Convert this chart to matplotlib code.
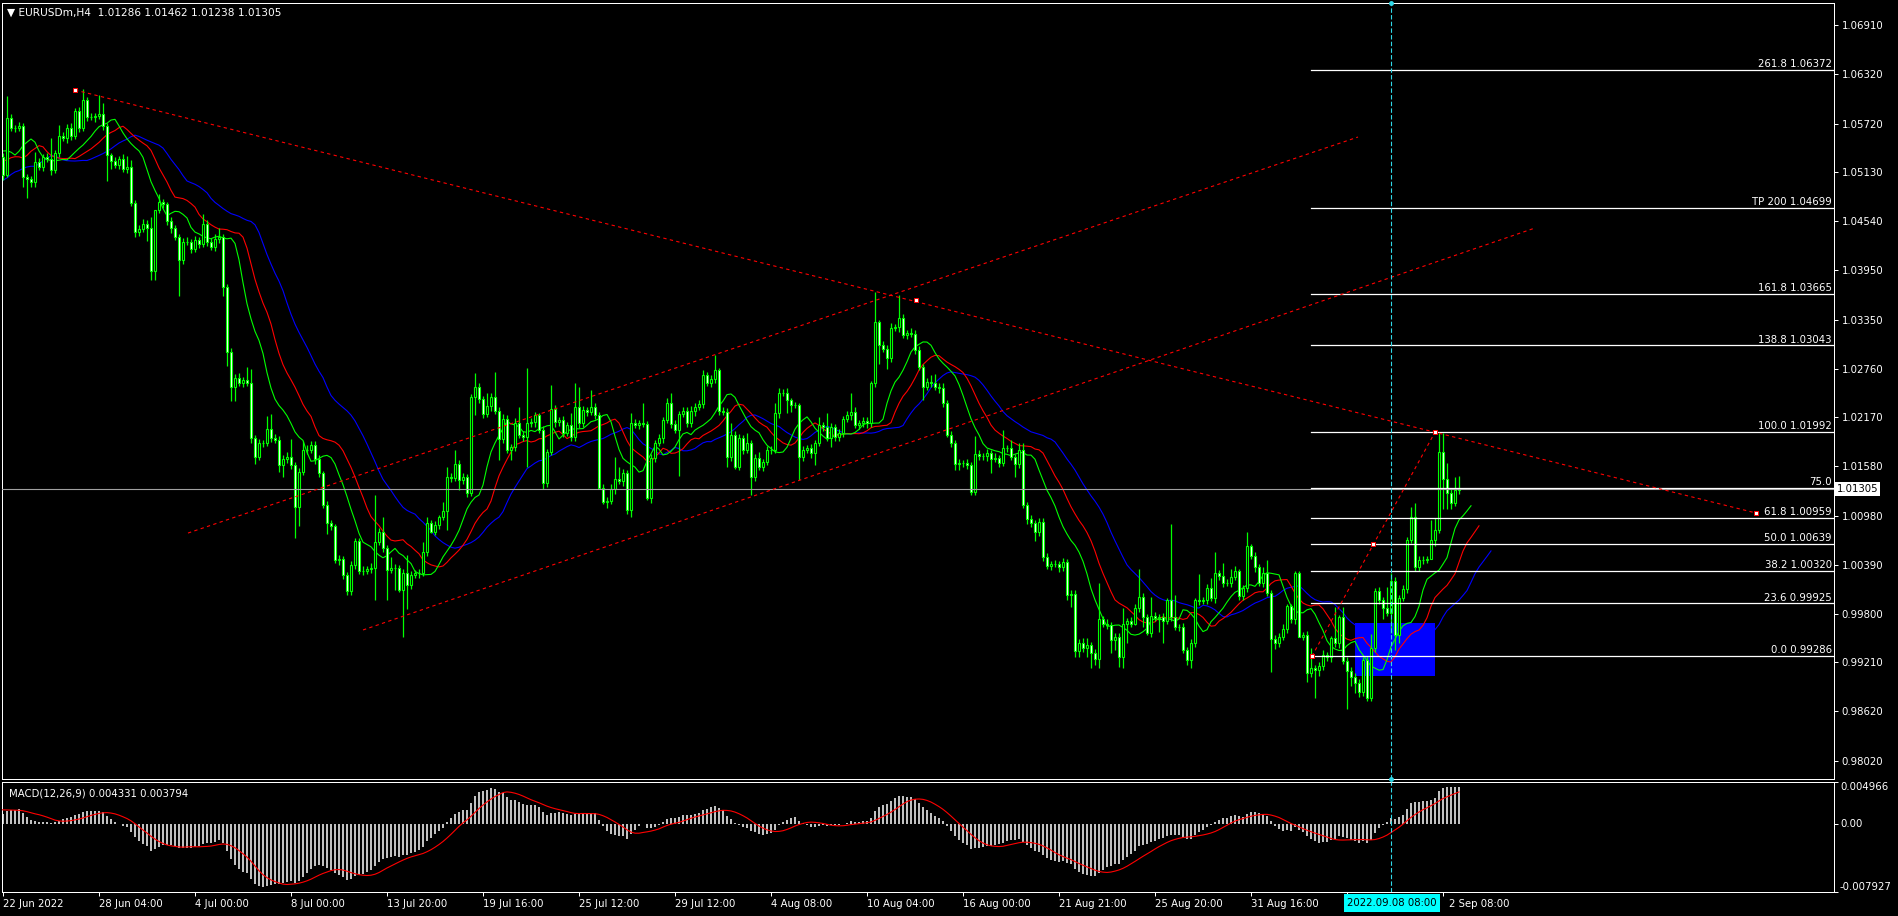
import numpy as np
import pandas as pd
import matplotlib
matplotlib.use('Agg')
import matplotlib.pyplot as plt
import matplotlib.transforms as mtrans
from matplotlib.patches import Rectangle

plt.rcParams['font.family'] = ['DejaVu Sans']
plt.rcParams['font.size'] = 7.3

# ---- EURUSDm H4 candles (close, wick lengths in pips) ----
closes = [
    1.0510, 1.0579, 1.0567, 1.0567, 1.0569, 1.0508, 1.0505, 1.0501, 1.0525, 1.0520,
    1.0531, 1.0529, 1.0516, 1.0536, 1.0557, 1.0555, 1.0567, 1.0557, 1.0587, 1.0567,
    1.0600, 1.0580, 1.0580, 1.0581, 1.0584, 1.0569, 1.0534, 1.0527, 1.0522, 1.0529,
    1.0517, 1.0520, 1.0476, 1.0441, 1.0445, 1.0451, 1.0446, 1.0394, 1.0468, 1.0477,
    1.0475, 1.0454, 1.0446, 1.0435, 1.0407, 1.0429, 1.0429, 1.0421, 1.0431, 1.0427,
    1.0451, 1.0429, 1.0423, 1.0432, 1.0435, 1.0375, 1.0296, 1.0254, 1.0265, 1.0259,
    1.0262, 1.0259, 1.0192, 1.0169, 1.0186, 1.0186, 1.0203, 1.0192, 1.0190, 1.0159,
    1.0167, 1.0169, 1.0159, 1.0109, 1.0151, 1.0178, 1.0178, 1.0184, 1.0167, 1.0150,
    1.0111, 1.0089, 1.0086, 1.0045, 1.0046, 1.0027, 1.0007, 1.0039, 1.0068, 1.0032,
    1.0032, 1.0034, 1.0035, 1.0067, 1.0078, 1.0059, 1.0033, 1.0035, 1.0035, 1.0008,
    1.0029, 1.0015, 1.0027, 1.0029, 1.0029, 1.0054, 1.0089, 1.0079, 1.0087, 1.0097,
    1.0104, 1.0145, 1.0144, 1.0161, 1.0141, 1.0145, 1.0126, 1.0242, 1.0254, 1.0239,
    1.0221, 1.0231, 1.0242, 1.0225, 1.0191, 1.0215, 1.0178, 1.0181, 1.0210, 1.0196,
    1.0193, 1.0210, 1.0211, 1.0220, 1.0202, 1.0138, 1.0175, 1.0227, 1.0211, 1.0214,
    1.0198, 1.0208, 1.0193, 1.0230, 1.0210, 1.0226, 1.0224, 1.0230, 1.0220, 1.0132,
    1.0115, 1.0116, 1.0130, 1.0143, 1.0140, 1.0150, 1.0105, 1.0210, 1.0208, 1.0210,
    1.0209, 1.0120, 1.0168, 1.0186, 1.0192, 1.0214, 1.0234, 1.0209, 1.0202, 1.0221,
    1.0225, 1.0210, 1.0225, 1.0230, 1.0233, 1.0268, 1.0259, 1.0263, 1.0274, 1.0225,
    1.0224, 1.0169, 1.0196, 1.0157, 1.0192, 1.0178, 1.0186, 1.0145, 1.0168, 1.0157,
    1.0163, 1.0178, 1.0178, 1.0222, 1.0247, 1.0247, 1.0238, 1.0232, 1.0232, 1.0169,
    1.0178, 1.0180, 1.0174, 1.0186, 1.0208, 1.0205, 1.0192, 1.0205, 1.0193, 1.0198,
    1.0215, 1.0220, 1.0224, 1.0208, 1.0210, 1.0213, 1.0210, 1.0259, 1.0332, 1.0304,
    1.0300, 1.0289, 1.0325, 1.0326, 1.0337, 1.0317, 1.0319, 1.0318, 1.0298, 1.0278,
    1.0254, 1.0260, 1.0259, 1.0254, 1.0253, 1.0234, 1.0196, 1.0186, 1.0161, 1.0162,
    1.0162, 1.0159, 1.0127, 1.0173, 1.0170, 1.0170, 1.0174, 1.0167, 1.0168, 1.0162,
    1.0180, 1.0180, 1.0169, 1.0161, 1.0178, 1.0111, 1.0094, 1.0089, 1.0078, 1.0091,
    1.0048, 1.0038, 1.0040, 1.0040, 1.0036, 1.0042, 1.0002, 1.0004, 0.9935, 0.9944,
    0.9939, 0.9942, 0.9932, 0.9925, 0.9973, 0.9968, 0.9966, 0.9948, 0.9952, 0.9927,
    0.9967, 0.9971, 0.9968, 0.9987, 1.0000, 0.9976, 0.9957, 0.9977, 0.9975, 0.9976,
    0.9971, 0.9996, 0.9976, 0.9964, 0.9964, 0.9936, 0.9924, 0.9944, 0.9996, 0.9995,
    0.9996, 1.0011, 0.9999, 1.0029, 1.0025, 1.0017, 1.0017, 1.0024, 1.0032, 1.0001,
    1.0011, 1.0062, 1.0050, 1.0036, 1.0017, 1.0029, 1.0005, 0.9949, 0.9945, 0.9952,
    0.9962, 0.9989, 0.9973, 1.0029, 0.9952, 0.9954, 0.9908, 0.9914, 0.9912, 0.9917,
    0.9930, 0.9927, 0.9951, 0.9944, 0.9976, 0.9923, 0.9911, 0.9904, 0.9896, 0.9885,
    0.9924, 0.9878, 0.9939, 1.0007, 0.9996, 0.9987, 0.9981, 1.0019, 0.9954, 0.9999,
    1.0010, 1.0069, 1.0097, 1.0036, 1.0045, 1.0045, 1.0046, 1.0069, 1.0081, 1.0175,
    1.0143, 1.0126, 1.0114, 1.0129, 1.01305,
]
wick_up = [
    5, 26, 4, 3, 5, 4, 3, 4, 13, 5,   4, 6, 26, 4, 13, 5, 4, 6, 4, 5,
    14, 4, 5, 4, 22, 13, 4, 3, 5, 4,  6, 13, 8, 4, 5, 6, 4, 13, 0, 10,
    4, 2, 5, 4, 3, 5, 6, 4, 5, 4,     12, 4, 5, 6, 11, 4, 3, 5, 4, 6,
    4, 16, 17, 4, 5, 4, 16, 18, 5, 4, 5, 6, 22, 4, 5, 10, 6, 4, 5, 4,
    2, 5, 4, 2, 5, 4, 3, 5, 3, 3,     5, 4, 6, 56, 5, 19, 4, 13, 5, 4,
    5, 22, 4, 4, 5, 12, 8, 4, 5, 2,   11, 12, 5, 17, 4, 5, 4, 3, 17, 5,
    4, 16, 5, 30, 4, 6, 5, 4, 6, 19,  4, 67, 5, 4, 2, 5, 4, 29, 5, 4,
    5, 4, 14, 28, 24, 5, 4, 20, 5, 4, 4, 5, 6, 26, 14, 5, 4, 12, 5, 4,
    24, 4, 5, 4, 5, 4, 7, 12, 5, 4,   5, 4, 6, 4, 5, 6, 4, 5, 18, 3,
    5, 4, 14, 4, 5, 4, 12, 4, 5, 7,   4, 4, 5, 12, 6, 4, 5, 2, 4, 2,
    5, 4, 5, 4, 10, 4, 17, 5, 4, 5,   4, 5, 23, 6, 4, 5, 4, 2, 36, 3,
    5, 4, 6, 4, 28, 5, 4, 6, 4, 5,    4, 5, 8, 10, 4, 6, 4, 5, 4, 5,
    4, 5, 4, 22, 5, 4, 5, 4, 6, 4,    22, 4, 10, 4, 8, 8, 4, 5, 4, 5,
    4, 5, 4, 5, 4, 5, 4, 5, 4, 5,     7, 8, 4, 5, 44, 4, 5, 4, 5, 4,
    20, 4, 5, 4, 34, 5, 4, 23, 5, 4,  5, 3, 92, 26, 4, 5, 4, 5, 3, 32,
    4, 5, 12, 25, 4, 16, 5, 10, 5, 2, 4, 16, 2, 5, 4, 7, 16, 4, 5, 4,
    5, 2, 2, 2, 2, 4, 5, 25, 4, 5,    6, 4, 2, 37, 2, 12, 4, 5, 4, 5,
    4, 5, 16, 4, 5, 4, 25, 10, 5, 4,  5, 4, 12, 17, 4, 5, 4, 24, 14, 23,
    23, 19, 5, 16, 16,
]
wick_dn = [
    6, 2, 4, 5, 4, 13, 23, 6, 6, 4,   5, 4, 6, 4, 5, 4, 6, 5, 4, 5,
    4, 5, 4, 6, 4, 5, 32, 10, 4, 5,   4, 5, 4, 6, 5, 4, 16, 11, 11, 4,
    5, 4, 6, 4, 43, 5, 4, 6, 4, 5,    4, 5, 4, 5, 4, 11, 17, 17, 17, 4,
    5, 4, 6, 8, 4, 5, 4, 5, 4, 8,     14, 5, 4, 38, 23, 4, 5, 4, 6, 5,
    4, 13, 5, 4, 6, 5, 4, 4, 5, 4,    5, 4, 5, 38, 4, 5, 36, 4, 26, 2,
    56, 30, 5, 4, 6, 4, 5, 2, 4, 5,   4, 23, 5, 4, 12, 4, 5, 4, 22, 4,
    5, 4, 6, 4, 25, 5, 4, 12, 5, 4,   5, 36, 4, 5, 4, 8, 5, 4, 6, 4,
    5, 4, 5, 4, 6, 4, 5, 4, 5, 2,     2, 7, 4, 5, 4, 6, 5, 8, 4, 5,
    4, 3, 6, 5, 4, 6, 4, 5, 4, 56,    4, 5, 4, 6, 4, 5, 4, 5, 4, 5,
    4, 12, 5, 2, 4, 5, 4, 22, 5, 4,   5, 4, 5, 4, 6, 4, 16, 8, 4, 28,
    5, 4, 6, 14, 4, 5, 4, 11, 5, 4,   5, 4, 6, 4, 5, 4, 6, 4, 5, 22,
    4, 14, 5, 4, 6, 4, 5, 4, 5, 4,    16, 4, 5, 4, 6, 4, 3, 5, 7, 8,
    5, 4, 4, 4, 5, 4, 6, 17, 4, 5,    4, 5, 4, 16, 5, 4, 6, 4, 10, 4,
    5, 4, 5, 4, 6, 4, 5, 14, 8, 7,    5, 11, 18, 7, 11, 4, 5, 16, 12, 12,
    13, 23, 4, 2, 5, 12, 3, 5, 4, 17, 26, 4, 5, 4, 5, 4, 6, 10, 4, 5,
    4, 5, 4, 6, 4, 5, 4, 5, 4, 5,     4, 5, 4, 6, 4, 5, 4, 40, 8, 5,
    4, 5, 4, 6, 0, 4, 11, 4, 34, 7,   5, 4, 6, 4, 5, 4, 46, 12, 12, 6,
    4, 3, 3, 5, 4, 14, 4, 24, 18, 10, 4, 5, 4, 4, 4, 5, 4, 0, 7, 4,
    37, 20, 8, 4, 5,
]
# closes of the bars just left of the window, used only to warm up the indicators
pre_closes = [
    1.0420, 1.0445, 1.0430, 1.0410, 1.0440, 1.0465, 1.0480, 1.0435, 1.0400, 1.0425,
    1.0450, 1.0535, 1.0570, 1.0540, 1.0510, 1.0535, 1.0560, 1.0530, 1.0500, 1.0485,
    1.0490, 1.0505, 1.0495, 1.0480, 1.0510, 1.0500, 1.0515, 1.0525, 1.0510, 1.0525,
    1.0535, 1.0545, 1.0525, 1.0540, 1.0560, 1.0550, 1.0535, 1.0550, 1.0540, 1.0531,
]

header = '\u25bc EURUSDm,H4  1.01286 1.01462 1.01238 1.01305'
macd_title = 'MACD(12,26,9) 0.004331 0.003794'
price_ticks = [1.06910, 1.06320, 1.05720, 1.05130, 1.04540, 1.03950, 1.03350, 1.02760,
               1.02170, 1.01580, 1.00980, 1.00390, 0.99800, 0.99210, 0.98620, 0.98020]
macd_ticks = [0.004966, 0.0, -0.007927]
macd_tick_labels = ['0.004966', '0.00', '-0.007927']
time_ticks = list(range(0, 361, 24))
# the 6 Sep label sits under the cursor date box, the 12 Sep one shows as "2 Sep 08:00"
time_labels = ['22 Jun 2022', '28 Jun 04:00', '4 Jul 00:00', '8 Jul 00:00', '13 Jul 20:00',
               '19 Jul 16:00', '25 Jul 12:00', '29 Jul 12:00', '4 Aug 08:00', '10 Aug 04:00',
               '16 Aug 00:00', '21 Aug 21:00', '25 Aug 20:00', '31 Aug 16:00', '', '']
last_label = '2 Sep 08:00'
bid = 1.01305
cursor_bar = 347
cursor_label = '2022.09.08 08:00'

# fibonacci drawn from the 0.99286 low to the 1.01992 high
fib_low, fib_high = 0.99286, 1.01992
fib_from_bar = 327
fib_ratio = [0.0, 23.6, 38.2, 50.0, 61.8, 75.0, 100.0, 138.8, 161.8, 200.0, 261.8]
fib_text = ['0.0 0.99286', '23.6 0.99925', '38.2 1.00320', '50.0 1.00639', '61.8 1.00959',
            '75.0', '100.0 1.01992', '138.8 1.03043', '161.8 1.03665', 'TP 200 1.04699',
            '261.8 1.06372']

# trend lines: (bar, price) end points
trend_down = [(18, 1.06125), (438.25, 1.01015)]
trend_down_marks = [(18, 1.06125), (228.25, 1.03588), (438.25, 1.01015)]
channel_hi = [(46.25, 1.00773), (338.75, 1.05557)]
channel_lo = [(90, 0.99602), (383, 1.04458)]
fib_diag = [(327.25, 0.99286), (358, 1.01992)]
fib_marks = [(327.25, 0.99286), (342.6, 1.00639), (358, 1.01992)]
box_bars = (338, 358)
box_prices = (0.99046, 0.99686)

# ---- build OHLC ----
n = min(len(closes), len(wick_up), len(wick_dn))
c = np.array(closes[:n])
o = np.r_[pre_closes[-1], c[:-1]]
hi = np.maximum(o, c) + np.array(wick_up[:n]) * 0.0001
lo = np.minimum(o, c) - np.array(wick_dn[:n]) * 0.0001
x = np.arange(n)

npre = len(pre_closes)
xi = np.arange(npre + n) - npre
med = pd.Series(np.r_[pre_closes, (hi + lo) / 2])
allc = pd.Series(np.r_[pre_closes, c])

def smma(s, p):
    return s.ewm(alpha=1.0 / p, adjust=False).mean().values

jaw = smma(med, 13)
teeth = smma(med, 8)
lips = smma(med, 5)

macd = allc.ewm(span=12, adjust=False).mean() - allc.ewm(span=26, adjust=False).mean()
signal = macd.rolling(9, min_periods=1).mean()

# ---- figure ----
W, H = 1898, 916
fig = plt.figure(figsize=(W / 100, H / 100), dpi=100, facecolor='black')
ax = fig.add_axes([2 / W, 1 - 779 / H, 1832 / W, 776 / H])
ax2 = fig.add_axes([2 / W, 1 - 892 / H, 1832 / W, 110 / H])

xlim = (-0.25, 457.75)
for a in (ax, ax2):
    a.set_facecolor('black')
    a.set_xlim(*xlim)
    for s in a.spines.values():
        s.set_color('white')
        s.set_linewidth(0.72)
ax.set_ylim(0.97802, 1.07176)
ax2.set_ylim(-0.007927, 0.004966)

# blue zone
ax.add_patch(Rectangle((box_bars[0], box_prices[0]), box_bars[1] - box_bars[0],
                       box_prices[1] - box_prices[0], facecolor='#0000ff',
                       edgecolor='none', zorder=1))

# alligator
ax.plot(xi + 8, jaw, color='#0000ff', lw=0.8, zorder=2)
ax.plot(xi + 5, teeth, color='#ff0000', lw=0.8, zorder=2)
ax.plot(xi + 3, lips, color='#00ff00', lw=0.8, zorder=2)

# candles
green = '#00ff00'
ax.vlines(x, lo, hi, color=green, lw=0.9, zorder=3)
fills = np.where(c >= o, 'black', 'white')
ax.bar(x, c - o, bottom=o, width=0.6, color=fills, edgecolor=green,
       linewidth=0.8, zorder=4)

# fibonacci levels
rng = fib_high - fib_low
lab_tr = mtrans.blended_transform_factory(ax.transAxes, ax.transData)
for r, t in zip(fib_ratio, fib_text):
    lvl = fib_low + r / 100 * rng
    ax.plot([fib_from_bar, xlim[1]], [lvl, lvl], color='white', lw=0.9, zorder=5)
    ax.text(1 - 2 / 1832, lvl + 0.00008, t, transform=lab_tr, ha='right',
            va='bottom', color='white', fontsize=7.3, zorder=6)

# bid line
ax.axhline(bid, color='#a0a0a0', lw=0.8, zorder=4.5)

# trend lines
dash = (0, (3, 3))
for seg in (trend_down, channel_hi, channel_lo, fib_diag):
    xs, ys = zip(*seg)
    ax.plot(xs, ys, color='#ff0000', lw=0.8, ls=dash, zorder=5.5)
for pts in (trend_down_marks, fib_marks):
    xs, ys = zip(*pts)
    ax.plot(xs, ys, ls='none', marker='s', ms=3.5, mfc='white', mec='#ff0000',
            mew=0.7, zorder=7)

# cursor line
for a in (ax, ax2):
    a.axvline(cursor_bar, color='#30d8e8', lw=0.8, ls=(0, (4, 2)), zorder=8)
ax.plot([cursor_bar, cursor_bar], [1.07176, 0.97802], ls='none', marker='o', ms=2.5,
        color='#30d8e8', clip_on=False, zorder=8)

# price axis
ax.yaxis.tick_right()
ax.set_yticks(price_ticks)
ax.set_yticklabels([f'{v:.5f}' for v in price_ticks])
ax.tick_params(axis='y', colors='white', length=2.9, width=0.72, pad=2.5,
               labelsize=7.3, direction='out')
ax.set_xticks([])
ax.text(1 + 3 / 1832, bid, f'{bid:.5f}', transform=lab_tr, ha='left', va='center',
        color='black', fontsize=7.3, zorder=9, clip_on=False,
        bbox=dict(boxstyle='square,pad=0.15', facecolor='white', edgecolor='none'))

# MACD
ax2.bar(xi, macd.values, width=0.55, color='#c0c0c0', zorder=2)
ax2.plot(xi, signal.values, color='#ff0000', lw=0.8, zorder=3)
ax2.set_yticks(macd_ticks)
ax2.set_yticklabels([])
ax2.yaxis.tick_right()
ax2.tick_params(axis='y', colors='white', length=2.9, width=0.72)
m_tr = mtrans.blended_transform_factory(ax2.transAxes, ax2.transData)
for v, t, va in zip(macd_ticks, macd_tick_labels, ['top', 'center', 'bottom']):
    ax2.text(1 + 6 / 1832, v, t, transform=m_tr, ha='left', va=va, color='white',
             fontsize=7.3, clip_on=False)
ax2.set_xticks(time_ticks)
ax2.set_xticklabels(time_labels, ha='left')
ax2.tick_params(axis='x', colors='white', length=2.9, width=0.72, pad=2,
                labelsize=7.3, direction='out')
fig.text((time_ticks[-1] * 4 + 3 + 6) / W, 1 - 904 / H, last_label, color='white',
         fontsize=7.3, ha='left', va='center')

# titles
fig.text(7 / W, 1 - 13 / H, header, color='white', fontsize=7.6, va='center', ha='left')
ax2.text(7 / 1832, 1 - 11 / 110, macd_title, transform=ax2.transAxes, color='white',
         fontsize=7.3, va='center', ha='left')

# time label of the cursor
fig.text((cursor_bar * 4 + 3 + 1) / W, 1 - 903 / H, cursor_label, color='black',
         fontsize=7.3, ha='center', va='center', zorder=10,
         bbox=dict(boxstyle='square,pad=0.35', facecolor='#00ffff', edgecolor='none'))

fig.savefig('out.png', dpi=100, facecolor='black')
